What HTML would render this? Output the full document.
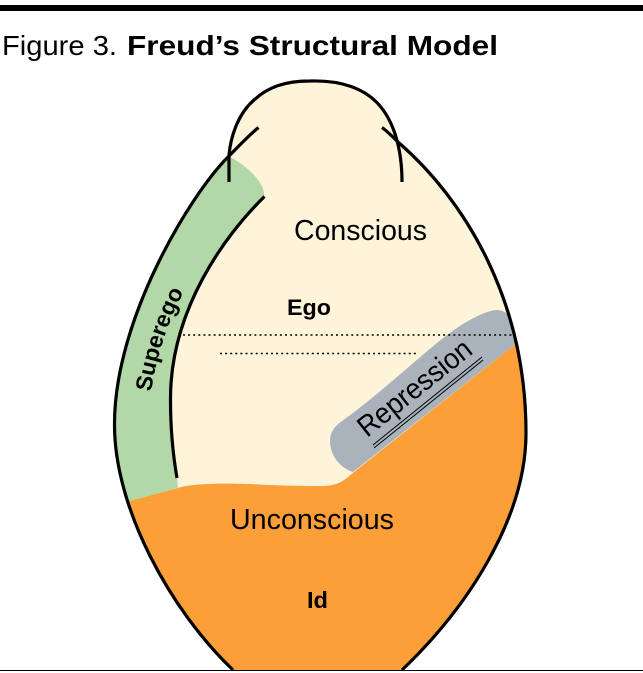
<!DOCTYPE html>
<html>
<head>
<meta charset="utf-8">
<style>
html,body{margin:0;padding:0;background:#fff;}
svg{display:block;}
text{font-family:"Liberation Sans",sans-serif;fill:#000;}
</style>
</head>
<body>
<svg width="643" height="673" viewBox="0 0 643 673" xmlns="http://www.w3.org/2000/svg">
<defs><path id="sup" d="M151 392 C157 355 168 320 187 286"/></defs>
<rect x="0" y="5" width="643" height="6" fill="#000"/>
<rect x="0" y="670" width="643" height="1" fill="#000"/>
<text x="2" y="55" font-size="28" textLength="115" lengthAdjust="spacingAndGlyphs">Figure 3.</text>
<text x="127" y="55" font-size="28" font-weight="bold" textLength="371" lengthAdjust="spacingAndGlyphs">Freud’s Structural Model</text>

<!-- cream egg -->
<path d="M229 157 L229 155 C231 133 240 112 254 100 C268 87 285 81 310 81 C340 80 365 88 380 106 C390 118 396 130 398 142 C465 200 526 300 526 433 C526 520 465 610 402 670 L233 670 C170 610 114 508 114 425 C114 320 190 195 229 157 Z" fill="#fef4da"/>
<!-- green -->
<path d="M229 157 C190 195 114 320 114 425 C114 455 119 478 126 502 L178 488 L177 478 C173 455 170 430 170 400 C170 310 225 235 264 197 C266 185 250 168 232 158 Z" fill="#b2d8a7"/>
<!-- orange -->
<path d="M126 502 L178 488 C190 484 215 483 250 484 C280 486 310 486 325 486 C340 485 346 479 354 472 L518 342 C523 365 526 400 526 433 C526 520 465 610 402 670 L233 670 C185 624 145 560 126 502 Z" fill="#fd9f39"/>
<!-- gray -->
<path d="M353 472 C340 468 330 455 330 441 C330 432 335 426 342 421 C375 398 415 360 447 335 C465 322 480 313 495 310 C503 310 507 312 509 318 C512 326 515 335 518 342 Z" fill="#aab3bb"/>

<!-- lines -->
<g fill="none" stroke="#000" stroke-width="3.200">
<path d="M258.500 127.500 C248 136 238 147 228 157 C190 195 114 320 114.500 425 C114.500 508 170 610 233 670"/>
<path d="M382 127.500 C388 132 393 137 398 142 C465 200 526 300 526 433 C526 520 465 610 402 670"/>
<path d="M229 182 L229 155 C231 133 240 112 254 100 C268 87 285 81 310 81 C340 80 365 88 380 106 C392 120 402 145 402 182"/>
<path d="M264.500 196.500 C225 235 170 310 170.500 400 C170.500 430 173 455 177 478"/>
</g>
<g fill="none" stroke="#000" stroke-width="1.600" stroke-dasharray="2 3.100">
<path d="M183 335 H516"/>
<path d="M220 353.500 H416"/>
</g>
<path d="M373 445 L482 357" stroke="#000" stroke-width="1" fill="none"/>
<path d="M374 448 L483 360" stroke="#000" stroke-width="1" fill="none"/>

<!-- labels -->
<text x="294" y="240" font-size="28.500" textLength="133" lengthAdjust="spacingAndGlyphs" fill="#111">Conscious</text>
<text x="287" y="315" font-size="22" font-weight="bold" textLength="44" lengthAdjust="spacingAndGlyphs">Ego</text>
<text x="230" y="529" font-size="28.500" textLength="164" lengthAdjust="spacingAndGlyphs" fill="#111">Unconscious</text>
<text x="307" y="608" font-size="23" font-weight="bold" textLength="21" lengthAdjust="spacingAndGlyphs">Id</text>
<text font-size="23" font-weight="bold"><textPath href="#sup">Superego</textPath></text>
<text transform="translate(367 438) rotate(-38.500)" font-size="29" textLength="137" lengthAdjust="spacingAndGlyphs" fill="#111">Repression</text>
</svg>
</body>
</html>
